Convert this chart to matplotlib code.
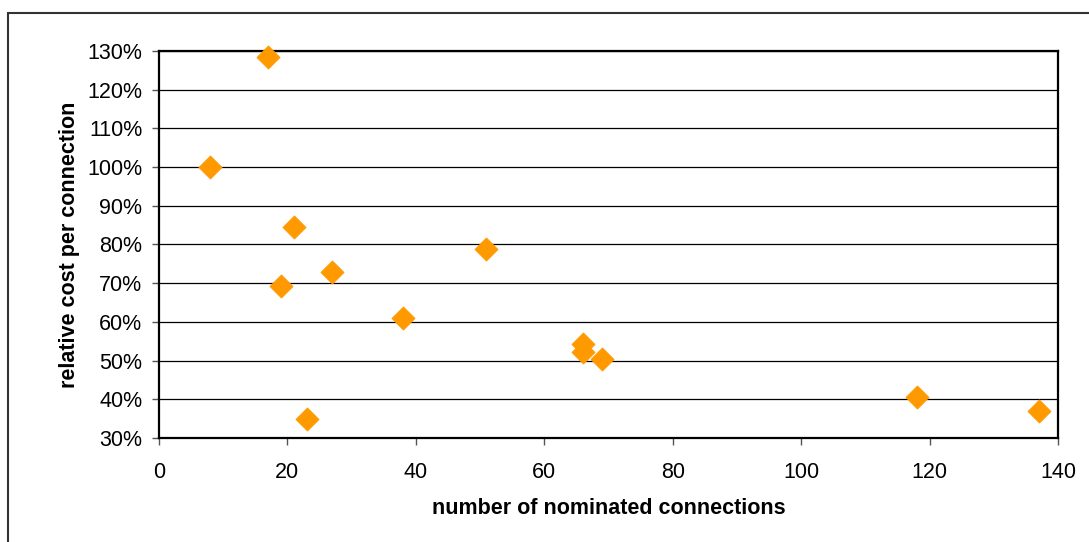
import matplotlib
matplotlib.use("Agg")
import matplotlib.pyplot as plt
from matplotlib.patches import Rectangle
from matplotlib.ticker import FuncFormatter, MultipleLocator

plt.rcParams["font.family"] = ["Liberation Sans", "DejaVu Sans"]

# data
connections = [17, 8, 21, 19, 27, 38, 51, 66, 66, 69, 23, 118, 137]
relative_cost = [1.284, 1.00, 0.846, 0.693, 0.729, 0.611, 0.788, 0.543, 0.522, 0.503, 0.348, 0.407, 0.369]

fig = plt.figure(figsize=(10.89, 5.42), dpi=100)
ax = fig.add_axes([0.146, 0.192, 0.8255, 0.714])

# outer chart border (only left/top edges visible in the original)
fig.patches.append(Rectangle((8 / 1089, -0.1), 1.2, 1 - 13 / 542 + 0.1,
                             transform=fig.transFigure, fill=False,
                             edgecolor="#333333", linewidth=1.5))

ax.scatter(connections, relative_cost, marker="D", s=140, color="#FF9900",
           edgecolors="#FF9900", linewidths=0.5, zorder=3, clip_on=False)

ax.set_xlim(0, 140)
ax.set_ylim(0.30, 1.30)
ax.xaxis.set_major_locator(MultipleLocator(20))
ax.yaxis.set_major_locator(MultipleLocator(0.10))
ax.yaxis.set_major_formatter(FuncFormatter(lambda v, p: f"{round(v * 100)}%"))

ax.grid(axis="y", color="black", linewidth=0.9)
ax.set_axisbelow(True)
for s in ax.spines.values():
    s.set_linewidth(1.6)
    s.set_color("black")

ax.tick_params(axis="both", direction="out", length=5, width=1, labelsize=15.5,
               color="#555555")
ax.tick_params(axis="x", pad=12)
ax.tick_params(axis="y", pad=7)

ax.set_xlabel("number of nominated connections", fontsize=15.5, fontweight="bold", labelpad=11)
ax.set_ylabel("relative cost per connection", fontsize=15.5, fontweight="bold", labelpad=5)

fig.savefig("out.png", dpi=100)
